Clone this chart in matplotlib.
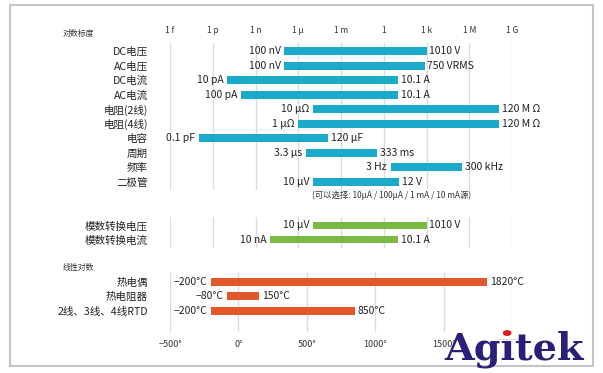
import numpy as np
import matplotlib
matplotlib.use("Agg")
import matplotlib.pyplot as plt
from matplotlib.patches import Rectangle
from matplotlib.textpath import TextPath
from matplotlib.font_manager import FontProperties

plt.rcParams['font.family'] = ['Noto Sans CJK SC', 'DejaVu Sans']

# log-scale ranges
log_cats = ['DC电压', 'AC电压', 'DC电流', 'AC电流', '电阻(2线)', '电阻(4线)',
            '电容', '周期', '频率', '二极管']
log_lo = [1e-7, 1e-7, 1e-11, 1e-10, 1e-5, 1e-6, 1e-13, 3.3e-6, 3, 1e-5]
log_hi = [1010, 750, 10.1, 10.1, 1.2e8, 1.2e8, 1.2e-4, 0.333, 3e5, 12]
log_lo_txt = ['100 nV', '100 nV', '10 pA', '100 pA', '10 μΩ', '1 μΩ',
              '0.1 pF', '3.3 μs', '3 Hz', '10 μV']
log_hi_txt = ['1010 V', '750 VRMS', '10.1 A', '10.1 A', '120 M Ω', '120 M Ω',
              '120 μF', '333 ms', '300 kHz', '12 V']

# digitizer ranges
adc_cats = ['模数转换电压', '模数转换电流']
adc_lo = [1e-5, 1e-8]
adc_hi = [1010, 10.1]
adc_lo_txt = ['10 μV', '10 nA']
adc_hi_txt = ['1010 V', '10.1 A']

# temperature ranges (linear)
temp_cats = ['热电偶', '热电阻器', '2线、3线、4线RTD']
temp_lo = [-200, -80, -200]
temp_hi = [1820, 150, 850]
temp_lo_txt = ['−200°C', '−80°C', '−200°C']
temp_hi_txt = ['1820°C', '150°C', '850°C']

log_ticks = [1e-15, 1e-12, 1e-9, 1e-6, 1e-3, 1, 1e3, 1e6, 1e9]
log_tick_txt = ['1 f', '1 p', '1 n', '1 μ', '1 m', '1', '1 k', '1 M', '1 G']
lin_ticks = [-500, 0, 500, 1000, 1500, 2000]
lin_tick_txt = ['−500°', '0°', '500°', '1000°', '1500°', '']

BLUE = '#1caacb'
GREEN = '#7ab942'
ORANGE = '#e2582a'
GRID = '#dcdcdc'
TXT = '#222222'

W, H = 603, 373
fig = plt.figure(figsize=(W / 100, H / 100), dpi=100)


def px_axes(x0, y0, x1, y1):
    return fig.add_axes([x0 / W, 1 - y1 / H, (x1 - x0) / W, (y1 - y0) / H])


def draw_rows(ax, cats, lo, hi, lo_txt, hi_txt, color):
    y = np.arange(len(cats))
    ax.barh(y, np.array(hi) - np.array(lo), left=lo, height=0.55,
            color=color, zorder=2)
    for i in range(len(cats)):
        ax.annotate(lo_txt[i], (lo[i], y[i]), xytext=(-2.5, 0),
                    textcoords='offset points', ha='right', va='center',
                    fontsize=7.5, color=TXT)
        ax.annotate(hi_txt[i], (hi[i], y[i]), xytext=(2, 0),
                    textcoords='offset points', ha='left', va='center',
                    fontsize=7.5, color=TXT)
    ax.set_yticks(y)
    ax.set_yticklabels(cats, fontsize=7.6, color=TXT)
    ax.tick_params(axis='y', length=0, pad=16)
    for s in ax.spines.values():
        s.set_visible(False)
    ax.grid(axis='x', color=GRID, lw=1)
    ax.set_axisbelow(True)


# top block
ax1 = px_axes(170, 43, 512, 190)
ax1.set_xscale('log')
draw_rows(ax1, log_cats, log_lo, log_hi, log_lo_txt, log_hi_txt, BLUE)
ax1.set_xlim(1e-15, 1e9)
ax1.set_ylim(9.55, -0.55)
ax1.set_xticks(log_ticks)
ax1.set_xticklabels(log_tick_txt, fontsize=6, color='#333333')
ax1.xaxis.set_minor_locator(matplotlib.ticker.NullLocator())
ax1.xaxis.tick_top()
ax1.tick_params(axis='x', length=0, pad=6)

# digitizer block
ax2 = px_axes(170, 217, 512, 248)
ax2.set_xscale('log')
draw_rows(ax2, adc_cats, adc_lo, adc_hi, adc_lo_txt, adc_hi_txt, GREEN)
ax2.set_xlim(1e-15, 1e9)
ax2.set_ylim(1.6, -0.6)
ax2.set_xticks(log_ticks)
ax2.xaxis.set_minor_locator(matplotlib.ticker.NullLocator())
ax2.tick_params(axis='x', length=0, labelbottom=False)

# temperature block
ax3 = px_axes(170, 272, 512, 332)
draw_rows(ax3, temp_cats, temp_lo, temp_hi, temp_lo_txt, temp_hi_txt, ORANGE)
ax3.set_xlim(-500, 2000)
ax3.set_ylim(3.43, -0.66)
ax3.set_xticks(lin_ticks)
ax3.set_xticklabels(lin_tick_txt, fontsize=6.5, color='#333333')
ax3.tick_params(axis='x', length=0, pad=6)

# section headers and note
fig.text(63 / W, 1 - 33 / H, '对数标度', fontsize=5.7, va='center', color='#333333')
fig.text(63 / W, 1 - 267 / H, '线性对数', fontsize=5.7, va='center', color='#333333')
fig.text(312 / W, 1 - 195 / H, '(可以选择: 10μA / 100μA / 1 mA / 10 mA源)',
         fontsize=6, va='center', color='#333333')

# frame
fig.patches.append(Rectangle((10 / W, 1 - 366 / H), 583 / W, 361 / H,
                             transform=fig.transFigure, fill=False,
                             edgecolor='#c4c4c4', lw=1.5))

# logo: dotless i with a red dot on top
logo_fp = FontProperties(family='DejaVu Serif', weight='bold', size=27.5)
logo_x0, logo_base = 444, 360
fig.text(logo_x0 / W, 1 - logo_base / H, 'Agıtek', fontproperties=logo_fp,
         color='#2a1f78', ha='left', va='baseline')
w_ag = TextPath((0, 0), 'Ag', prop=logo_fp).get_extents().x1
w_agi = TextPath((0, 0), 'Agı', prop=logo_fp).get_extents().x1
dot_x = logo_x0 + (w_ag + w_agi) / 2 / 72 * 100 + 0.5
fig.patches.append(plt.Circle((dot_x / W, 1 - 333 / H), 3.6 / W,
                              transform=fig.transFigure, color='#e0191e'))
fig.lines.append(plt.Line2D([(dot_x - 10) / W, (dot_x + 12) / W],
                            [1 - 339 / H, 1 - 339 / H], transform=fig.transFigure,
                            color='#9a9a9a', lw=0.5, ls=(0, (2, 2))))

fig.savefig('out.png', dpi=100)
